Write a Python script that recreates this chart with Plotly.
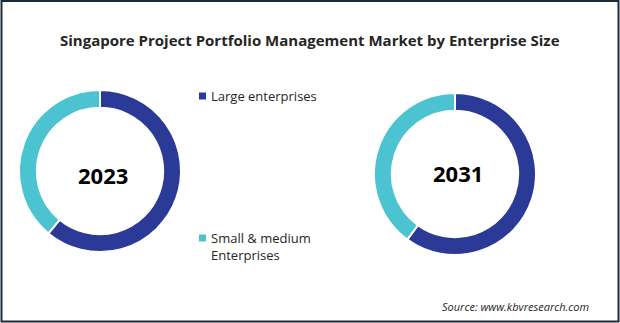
import plotly.graph_objects as go

# Market share by enterprise size (%)
segments = ["Large enterprises", "Small & medium<br>Enterprises"]
years = ["2023", "2031"]
share_2023 = [61, 39]
share_2031 = [60, 40]
colors = ["#2B3A96", "#4CC3D1"]

W, H = 620, 323

def px_dom(x0, x1, y0, y1):
    return dict(x=[x0 / W, x1 / W], y=[1 - y1 / H, 1 - y0 / H])

fig = go.Figure()
for vals, dom in [(share_2023, px_dom(19, 181, 90, 252)),
                  (share_2031, px_dom(374, 536, 93, 255))]:
    fig.add_trace(go.Pie(
        labels=segments, values=vals, hole=0.78, sort=False,
        direction="clockwise", rotation=0, textinfo="none",
        marker=dict(colors=colors, line=dict(color="white", width=2)),
        domain=dom, showlegend=False, hoverinfo="label+percent",
    ))

annotations = [
    dict(text="<b>Singapore Project Portfolio Management Market by Enterprise Size</b>",
         x=310 / W, y=1 - 40 / H, font=dict(size=15, color="#262626")),
    dict(text="<b>" + years[0] + "</b>", x=103 / W, y=1 - 175 / H,
         font=dict(size=22, color="#000000")),
    dict(text="<b>" + years[1] + "</b>", x=458 / W, y=1 - 173 / H,
         font=dict(size=22, color="#000000")),
    dict(text="<i>Source: www.kbvresearch.com</i>", x=591 / W, y=1 - 306 / H,
         xanchor="right", font=dict(size=11, color="#262626")),
]

# Legend entries
legend_pos = [(96, 96), (238, 247)]
shapes = []
for label, color, (sq_y, txt_y) in zip(segments, colors, legend_pos):
    annotations.append(dict(text=label, x=209 / W, y=1 - txt_y / H, xanchor="left",
                            align="left", font=dict(size=13, color="#262626")))
    shapes.append(dict(type="rect", xref="paper", yref="paper",
                       x0=199 / W, x1=206 / W, y0=1 - (sq_y + 3.5) / H, y1=1 - (sq_y - 3.5) / H,
                       fillcolor=color, line=dict(width=0)))

for a in annotations:
    a.update(xref="paper", yref="paper", showarrow=False, yanchor="middle")
    a.setdefault("xanchor", "center")
    a["font"]["family"] = "Open Sans, sans-serif"

# Outer frame
shapes.append(dict(type="rect", xref="paper", yref="paper",
                   x0=1.5 / W, x1=1 - 1.5 / W, y0=1.5 / H, y1=1 - 1 / H,
                   line=dict(color="#1C2B3A", width=2), fillcolor="rgba(0,0,0,0)"))

fig.update_layout(
    width=W, height=H, margin=dict(l=0, r=0, t=0, b=0),
    paper_bgcolor="white", plot_bgcolor="white",
    annotations=annotations, shapes=shapes,
)

fig.write_html("out.html")
